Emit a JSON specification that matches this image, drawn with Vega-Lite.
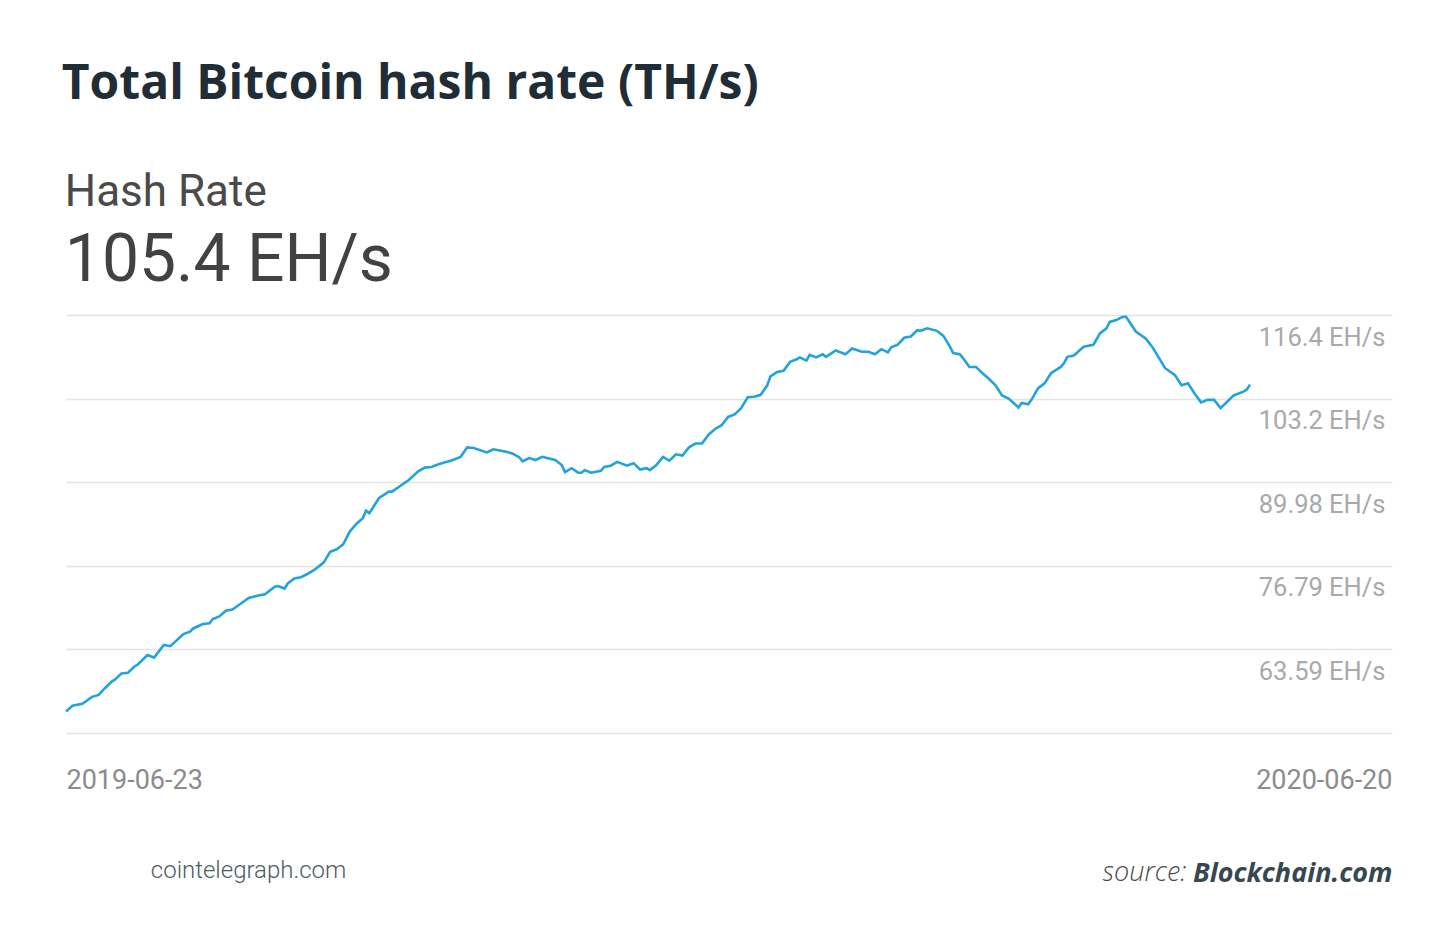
{
  "$schema": "https://vega.github.io/schema/vega-lite/v6.json",
  "background": "white",
  "padding": {"left": 60, "top": 60, "right": 60, "bottom": 20},
  "title": {
    "text": "Total Bitcoin hash rate (TH/s)",
    "anchor": "start",
    "font": "Open Sans",
    "fontSize": 48,
    "fontWeight": "bold",
    "color": "#212d36",
    "dx": 1,
    "offset": 62
  },
  "vconcat": [
    {
      "title": {
        "text": "cointelegraph.com",
        "orient": "bottom",
        "anchor": "start",
        "dx": 90,
        "offset": -27,
        "font": "Roboto",
        "fontSize": 24,
        "fontWeight": 300,
        "color": "#4e5b65"
      },
      "vconcat": [
        {
          "width": 1326,
          "height": 418,
          "title": {
            "text": "Hash Rate",
            "subtitle": "105.4 EH/s",
            "anchor": "start",
            "dx": 4,
            "font": "Roboto",
            "fontSize": 44,
            "fontWeight": "normal",
            "color": "#4a4a4a",
            "subtitleFont": "Roboto",
            "subtitleFontSize": 66,
            "subtitleColor": "#424242",
            "subtitlePadding": 14,
            "offset": 18
          },
          "data": {
            "values": [
              {"date": "2019-06-23", "hash_rate": 53.8},
              {"date": "2019-06-25", "hash_rate": 54.7},
              {"date": "2019-06-28", "hash_rate": 55.0},
              {"date": "2019-07-01", "hash_rate": 56.1},
              {"date": "2019-07-03", "hash_rate": 56.4},
              {"date": "2019-07-05", "hash_rate": 57.5},
              {"date": "2019-07-07", "hash_rate": 58.5},
              {"date": "2019-07-08", "hash_rate": 58.8},
              {"date": "2019-07-10", "hash_rate": 59.8},
              {"date": "2019-07-12", "hash_rate": 59.9},
              {"date": "2019-07-14", "hash_rate": 60.9},
              {"date": "2019-07-15", "hash_rate": 61.2},
              {"date": "2019-07-18", "hash_rate": 62.7},
              {"date": "2019-07-20", "hash_rate": 62.3},
              {"date": "2019-07-23", "hash_rate": 64.3},
              {"date": "2019-07-25", "hash_rate": 64.1},
              {"date": "2019-07-29", "hash_rate": 66.0},
              {"date": "2019-07-31", "hash_rate": 66.4},
              {"date": "2019-08-01", "hash_rate": 66.9},
              {"date": "2019-08-04", "hash_rate": 67.6},
              {"date": "2019-08-06", "hash_rate": 67.7},
              {"date": "2019-08-07", "hash_rate": 68.4},
              {"date": "2019-08-09", "hash_rate": 68.8},
              {"date": "2019-08-11", "hash_rate": 69.7},
              {"date": "2019-08-13", "hash_rate": 69.9},
              {"date": "2019-08-15", "hash_rate": 70.6},
              {"date": "2019-08-18", "hash_rate": 71.7},
              {"date": "2019-08-21", "hash_rate": 72.1},
              {"date": "2019-08-23", "hash_rate": 72.3},
              {"date": "2019-08-26", "hash_rate": 73.5},
              {"date": "2019-08-27", "hash_rate": 73.6},
              {"date": "2019-08-29", "hash_rate": 73.2},
              {"date": "2019-08-30", "hash_rate": 74.0},
              {"date": "2019-09-01", "hash_rate": 74.8},
              {"date": "2019-09-03", "hash_rate": 75.0},
              {"date": "2019-09-05", "hash_rate": 75.5},
              {"date": "2019-09-07", "hash_rate": 76.1},
              {"date": "2019-09-09", "hash_rate": 76.9},
              {"date": "2019-09-10", "hash_rate": 77.3},
              {"date": "2019-09-12", "hash_rate": 79.0},
              {"date": "2019-09-14", "hash_rate": 79.4},
              {"date": "2019-09-16", "hash_rate": 80.2},
              {"date": "2019-09-18", "hash_rate": 82.2},
              {"date": "2019-09-20", "hash_rate": 83.4},
              {"date": "2019-09-22", "hash_rate": 84.3},
              {"date": "2019-09-23", "hash_rate": 85.5},
              {"date": "2019-09-24", "hash_rate": 85.1},
              {"date": "2019-09-27", "hash_rate": 87.5},
              {"date": "2019-09-30", "hash_rate": 88.5},
              {"date": "2019-10-01", "hash_rate": 88.5},
              {"date": "2019-10-04", "hash_rate": 89.6},
              {"date": "2019-10-06", "hash_rate": 90.3},
              {"date": "2019-10-09", "hash_rate": 91.7},
              {"date": "2019-10-11", "hash_rate": 92.3},
              {"date": "2019-10-13", "hash_rate": 92.4},
              {"date": "2019-10-15", "hash_rate": 92.8},
              {"date": "2019-10-17", "hash_rate": 93.1},
              {"date": "2019-10-19", "hash_rate": 93.4},
              {"date": "2019-10-22", "hash_rate": 94.0},
              {"date": "2019-10-24", "hash_rate": 95.5},
              {"date": "2019-10-26", "hash_rate": 95.4},
              {"date": "2019-10-30", "hash_rate": 94.7},
              {"date": "2019-11-01", "hash_rate": 95.2},
              {"date": "2019-11-03", "hash_rate": 95.0},
              {"date": "2019-11-05", "hash_rate": 94.8},
              {"date": "2019-11-07", "hash_rate": 94.5},
              {"date": "2019-11-09", "hash_rate": 93.9},
              {"date": "2019-11-10", "hash_rate": 93.3},
              {"date": "2019-11-12", "hash_rate": 93.8},
              {"date": "2019-11-14", "hash_rate": 93.5},
              {"date": "2019-11-16", "hash_rate": 94.0},
              {"date": "2019-11-20", "hash_rate": 93.5},
              {"date": "2019-11-22", "hash_rate": 92.7},
              {"date": "2019-11-23", "hash_rate": 91.6},
              {"date": "2019-11-25", "hash_rate": 92.2},
              {"date": "2019-11-27", "hash_rate": 91.5},
              {"date": "2019-11-28", "hash_rate": 91.5},
              {"date": "2019-11-29", "hash_rate": 91.9},
              {"date": "2019-12-01", "hash_rate": 91.5},
              {"date": "2019-12-04", "hash_rate": 91.8},
              {"date": "2019-12-05", "hash_rate": 92.4},
              {"date": "2019-12-07", "hash_rate": 92.6},
              {"date": "2019-12-09", "hash_rate": 93.2},
              {"date": "2019-12-12", "hash_rate": 92.6},
              {"date": "2019-12-14", "hash_rate": 93.0},
              {"date": "2019-12-16", "hash_rate": 92.0},
              {"date": "2019-12-18", "hash_rate": 92.2},
              {"date": "2019-12-19", "hash_rate": 91.9},
              {"date": "2019-12-21", "hash_rate": 92.7},
              {"date": "2019-12-23", "hash_rate": 94.0},
              {"date": "2019-12-25", "hash_rate": 93.4},
              {"date": "2019-12-27", "hash_rate": 94.4},
              {"date": "2019-12-29", "hash_rate": 94.2},
              {"date": "2019-12-31", "hash_rate": 95.5},
              {"date": "2020-01-02", "hash_rate": 96.1},
              {"date": "2020-01-04", "hash_rate": 96.1},
              {"date": "2020-01-06", "hash_rate": 97.5},
              {"date": "2020-01-08", "hash_rate": 98.4},
              {"date": "2020-01-10", "hash_rate": 99.0},
              {"date": "2020-01-12", "hash_rate": 100.3},
              {"date": "2020-01-14", "hash_rate": 100.7},
              {"date": "2020-01-16", "hash_rate": 101.7},
              {"date": "2020-01-18", "hash_rate": 103.4},
              {"date": "2020-01-20", "hash_rate": 103.5},
              {"date": "2020-01-22", "hash_rate": 103.8},
              {"date": "2020-01-24", "hash_rate": 105.3},
              {"date": "2020-01-25", "hash_rate": 106.7},
              {"date": "2020-01-27", "hash_rate": 107.4},
              {"date": "2020-01-29", "hash_rate": 107.6},
              {"date": "2020-01-31", "hash_rate": 109.0},
              {"date": "2020-02-02", "hash_rate": 109.4},
              {"date": "2020-02-03", "hash_rate": 109.7},
              {"date": "2020-02-05", "hash_rate": 109.2},
              {"date": "2020-02-06", "hash_rate": 110.1},
              {"date": "2020-02-08", "hash_rate": 109.7},
              {"date": "2020-02-10", "hash_rate": 110.2},
              {"date": "2020-02-11", "hash_rate": 109.8},
              {"date": "2020-02-14", "hash_rate": 110.8},
              {"date": "2020-02-17", "hash_rate": 110.2},
              {"date": "2020-02-19", "hash_rate": 111.1},
              {"date": "2020-02-22", "hash_rate": 110.6},
              {"date": "2020-02-24", "hash_rate": 110.6},
              {"date": "2020-02-26", "hash_rate": 110.2},
              {"date": "2020-02-28", "hash_rate": 111.0},
              {"date": "2020-03-01", "hash_rate": 110.5},
              {"date": "2020-03-02", "hash_rate": 111.3},
              {"date": "2020-03-04", "hash_rate": 111.7},
              {"date": "2020-03-06", "hash_rate": 112.8},
              {"date": "2020-03-08", "hash_rate": 113.0},
              {"date": "2020-03-10", "hash_rate": 114.0},
              {"date": "2020-03-11", "hash_rate": 113.9},
              {"date": "2020-03-13", "hash_rate": 114.3},
              {"date": "2020-03-16", "hash_rate": 113.9},
              {"date": "2020-03-18", "hash_rate": 113.1},
              {"date": "2020-03-20", "hash_rate": 111.4},
              {"date": "2020-03-21", "hash_rate": 110.4},
              {"date": "2020-03-23", "hash_rate": 110.2},
              {"date": "2020-03-24", "hash_rate": 109.6},
              {"date": "2020-03-26", "hash_rate": 108.2},
              {"date": "2020-03-28", "hash_rate": 108.2},
              {"date": "2020-03-30", "hash_rate": 107.2},
              {"date": "2020-04-01", "hash_rate": 106.3},
              {"date": "2020-04-03", "hash_rate": 105.3},
              {"date": "2020-04-05", "hash_rate": 103.7},
              {"date": "2020-04-07", "hash_rate": 103.2},
              {"date": "2020-04-10", "hash_rate": 101.8},
              {"date": "2020-04-11", "hash_rate": 102.5},
              {"date": "2020-04-13", "hash_rate": 102.3},
              {"date": "2020-04-14", "hash_rate": 103.0},
              {"date": "2020-04-16", "hash_rate": 104.8},
              {"date": "2020-04-18", "hash_rate": 105.6},
              {"date": "2020-04-20", "hash_rate": 107.2},
              {"date": "2020-04-23", "hash_rate": 108.2},
              {"date": "2020-04-24", "hash_rate": 108.8},
              {"date": "2020-04-25", "hash_rate": 109.8},
              {"date": "2020-04-27", "hash_rate": 110.0},
              {"date": "2020-04-30", "hash_rate": 111.4},
              {"date": "2020-05-03", "hash_rate": 111.7},
              {"date": "2020-05-05", "hash_rate": 113.5},
              {"date": "2020-05-07", "hash_rate": 114.3},
              {"date": "2020-05-08", "hash_rate": 115.3},
              {"date": "2020-05-10", "hash_rate": 115.6},
              {"date": "2020-05-12", "hash_rate": 116.1},
              {"date": "2020-05-13", "hash_rate": 116.1},
              {"date": "2020-05-16", "hash_rate": 113.8},
              {"date": "2020-05-19", "hash_rate": 112.7},
              {"date": "2020-05-21", "hash_rate": 111.4},
              {"date": "2020-05-25", "hash_rate": 108.0},
              {"date": "2020-05-28", "hash_rate": 106.9},
              {"date": "2020-05-30", "hash_rate": 105.3},
              {"date": "2020-06-01", "hash_rate": 105.6},
              {"date": "2020-06-03", "hash_rate": 104.0},
              {"date": "2020-06-05", "hash_rate": 102.6},
              {"date": "2020-06-07", "hash_rate": 103.0},
              {"date": "2020-06-09", "hash_rate": 103.0},
              {"date": "2020-06-11", "hash_rate": 101.7},
              {"date": "2020-06-13", "hash_rate": 102.7},
              {"date": "2020-06-15", "hash_rate": 103.7},
              {"date": "2020-06-18", "hash_rate": 104.3},
              {"date": "2020-06-19", "hash_rate": 104.6},
              {"date": "2020-06-20", "hash_rate": 105.4}
            ]
          },
          "mark": {"type": "line", "color": "#22a3dc", "strokeWidth": 2.6},
          "encoding": {
            "x": {
              "field": "date",
              "type": "temporal",
              "scale": {
                "type": "utc",
                "domain": [
                  {"year": 2019, "month": 6, "date": 23, "utc": true},
                  {"year": 2020, "month": 8, "date": 2, "hours": 13, "utc": true}
                ]
              },
              "axis": {
                "values": [
                  {"year": 2019, "month": 6, "date": 23, "utc": true},
                  {"year": 2020, "month": 6, "date": 20, "utc": true}
                ],
                "format": "%Y-%m-%d",
                "domain": false,
                "ticks": false,
                "grid": false,
                "labelFlush": false,
                "labelFont": "Roboto",
                "labelFontSize": 27,
                "labelColor": "#8c8c8c",
                "labelPadding": 34,
                "labelAlign": {
                  "condition": {"test": "datum.value > 1580000000000", "value": "right"},
                  "value": "left"
                },
                "labelOffset": {
                  "condition": {"test": "datum.value > 1580000000000", "value": 142},
                  "value": 0
                },
                "title": "source:",
                "titleFont": "Open Sans",
                "titleFontSize": 27,
                "titleFontStyle": "italic",
                "titleFontWeight": 300,
                "titleColor": "#4a4a4a",
                "titleAlign": "right",
                "titleBaseline": "alphabetic",
                "titleX": 1120,
                "titleY": 147
              }
            },
            "y": {
              "field": "hash_rate",
              "type": "quantitative",
              "scale": {"domain": [50.39, 116.4], "nice": false, "zero": false},
              "axis": {
                "orient": "right",
                "values": [50.39, 63.59, 76.79, 89.98, 103.2, 116.4],
                "labelExpr": "datum.value < 55 ? '' : format(datum.value, '.4~r') + ' EH/s'",
                "domain": false,
                "ticks": false,
                "tickSize": 0,
                "grid": true,
                "gridColor": "#e4e4e4",
                "gridWidth": 1.5,
                "labelAlign": "right",
                "labelPadding": -7,
                "labelBaseline": "alphabetic",
                "labelOffset": 30,
                "labelFont": "Roboto",
                "labelFontSize": 25.5,
                "labelColor": "#a9a9a9",
                "title": "Blockchain.com",
                "titleFont": "Open Sans",
                "titleFontSize": 27,
                "titleFontStyle": "italic",
                "titleFontWeight": "bold",
                "titleColor": "#37474f",
                "titleAngle": 0,
                "titleAlign": "right",
                "titleBaseline": "alphabetic",
                "titleX": 0,
                "titleY": 566
              }
            }
          }
        }
      ]
    }
  ],
  "config": {"view": {"stroke": null}}
}
